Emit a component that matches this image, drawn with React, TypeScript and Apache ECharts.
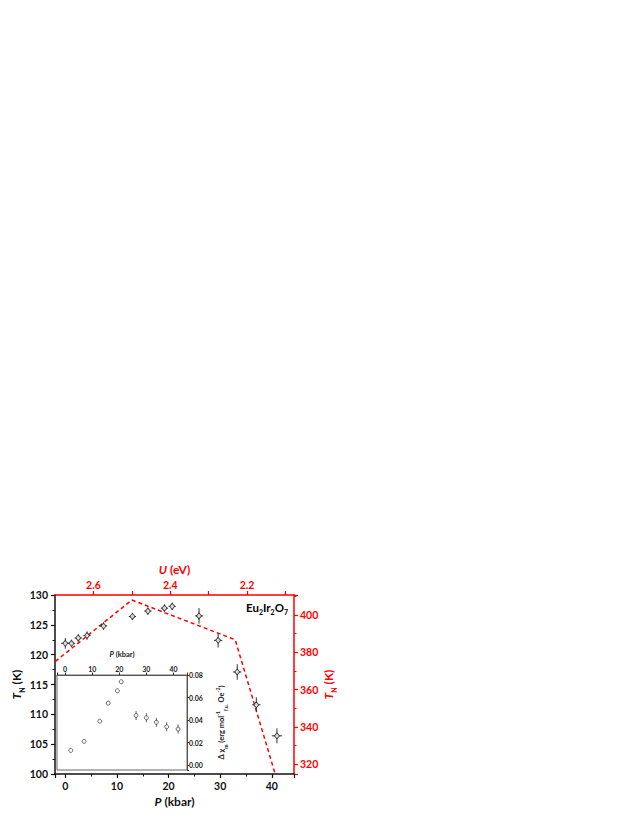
import React, { useEffect, useRef } from "react";
import * as echarts from "echarts";

// Main panel: Eu2Ir2O7 Néel temperature vs pressure
const P_MAIN = [0, 1.2, 2.5, 4.2, 7.4, 13.0, 16.0, 19.2, 20.7, 25.9, 29.6, 33.3, 37.0, 41.0];
const TN_MAIN = [121.9, 121.9, 122.8, 123.2, 124.8, 126.4, 127.3, 127.8, 128.1, 126.5, 122.4, 117.1, 111.6, 106.4];
const P_ERR = [0.8, 0.7, 0.7, 0.7, 0.7, 0.7, 0.7, 0.7, 0.7, 0.8, 0.8, 0.8, 0.8, 1.0];
const TN_ERR = [0.9, 0.6, 0.6, 0.7, 0.6, 0.6, 0.6, 0.6, 0.6, 1.3, 1.2, 1.3, 1.25, 1.25];

// Calculated T_N vs U (dashed red)
const U_CALC = [2.699, 2.5, 2.231, 2.127];
const TN_CALC = [375.1, 408.0, 386.7, 314.7];

// Inset: delta chi vs pressure
const P_INSET = [2.1, 7.0, 12.8, 15.9, 19.3, 20.7, 26.2, 30.0, 33.7, 37.5, 41.7];
const DCHI = [0.013, 0.021, 0.039, 0.055, 0.066, 0.074, 0.044, 0.042, 0.038, 0.034, 0.032];
const DCHI_ERR = [0, 0, 0, 0, 0, 0, 0.004, 0.004, 0.004, 0.004, 0.004];

// Tick labels
const P_LABELS = [0, 10, 20, 30, 40];
const TN_LEFT_LABELS = [100, 105, 110, 115, 120, 125, 130];
const TN_RIGHT_LABELS = [320, 340, 360, 380, 400];
const U_LABELS = [2.2, 2.4, 2.6];
const U_TICKS = [2.1, 2.2, 2.3, 2.4, 2.5, 2.6];
const DCHI_LABELS = [0, 0.02, 0.04, 0.06, 0.08];

const FONT = "Lato";
const RED = "#ff0000";

const onlyIn = (list: number[], digits: number) => (v: number) =>
  list.some((x) => Math.abs(x - v) < 1e-6) ? v.toFixed(digits) : "";

const subRich = (size: number, color: string) => ({
  i: { fontFamily: FONT, fontWeight: "bold", fontStyle: "italic", fontSize: size, color, lineHeight: size + 6, verticalAlign: "middle" },
  n: { fontFamily: FONT, fontWeight: "bold", fontSize: size, color, lineHeight: size + 6, verticalAlign: "middle" },
  s: { fontFamily: FONT, fontWeight: "bold", fontSize: Math.round(size * 0.62), color, lineHeight: Math.round(size * 0.62) + 1, verticalAlign: "bottom" },
  p: { fontFamily: FONT, fontWeight: "bold", fontSize: Math.round(size * 0.62), color, lineHeight: Math.round(size * 0.62) + 1, verticalAlign: "top" },
});

export default function App() {
  const ref = useRef<HTMLDivElement>(null);
  useEffect(() => {
    if (!ref.current) return;
    const chart = echarts.init(ref.current, null, { renderer: "svg" });

    const mainData = P_MAIN.map((p, i) => [p, TN_MAIN[i], P_ERR[i], TN_ERR[i]]);
    const insetData = P_INSET.map((p, i) => [p, DCHI[i], 0, DCHI_ERR[i]]);
    const calcData = U_CALC.map((u, i) => [u, TN_CALC[i]]);

    const errRender = (color: string, w: number) => (params: any, api: any) => {
      const x = api.value(0), y = api.value(1), ex = api.value(2), ey = api.value(3);
      const children: any[] = [];
      if (ex > 0) {
        const l = api.coord([x - ex, y]);
        const r = api.coord([x + ex, y]);
        children.push({ type: "line", shape: { x1: l[0], y1: l[1], x2: r[0], y2: r[1] }, style: { stroke: color, lineWidth: w } });
      }
      if (ey > 0) {
        const t = api.coord([x, y + ey]);
        const b = api.coord([x, y - ey]);
        children.push({ type: "line", shape: { x1: t[0], y1: t[1], x2: b[0], y2: b[1] }, style: { stroke: color, lineWidth: w } });
      }
      return { type: "group", children };
    };

    const labelBlack = { fontFamily: FONT, fontWeight: "bold", fontSize: 10.5, color: "#111" };
    const labelRed = { fontFamily: FONT, fontWeight: "bold", fontSize: 10.5, color: RED };
    const insetLabel = { fontFamily: FONT, fontWeight: "bold", fontSize: 7, color: "#222" };

    chart.setOption({
      animation: false,
      backgroundColor: "#fff",
      grid: [
        { left: 55, top: 595, width: 239, height: 179, show: false },
        { left: 57, top: 675, width: 130, height: 95, show: true, borderColor: "#666", borderWidth: 1, backgroundColor: "#fff", z: 3 },
      ],
      xAxis: [
        {
          gridIndex: 0, type: "value", position: "bottom", min: -2, max: 44.3,
          name: "{i|P}{n| (kbar)}", nameLocation: "middle", nameGap: 18,
          nameTextStyle: { rich: subRich(12, "#111") },
          axisLine: { show: true, onZero: false, lineStyle: { color: "#111", width: 1.5 } },
          axisTick: { show: true, inside: false, length: 4, lineStyle: { color: "#111", width: 1.2 } },
          minorTick: { show: true, splitNumber: 2, length: 2.5, lineStyle: { color: "#111", width: 1 } },
          axisLabel: { ...labelBlack, margin: 6, formatter: onlyIn(P_LABELS, 0) },
          splitLine: { show: false },
        },
        {
          gridIndex: 0, type: "value", position: "top", min: 2.078, max: 2.7, inverse: true,
          name: "{i|U}{n| (eV)}", nameLocation: "middle", nameGap: 17,
          nameTextStyle: { rich: subRich(12, RED) },
          axisLine: { show: true, onZero: false, lineStyle: { color: RED, width: 1.5 } },
          axisTick: { show: true, inside: false, length: 4, customValues: U_TICKS, lineStyle: { color: RED, width: 1.2 } },
          axisLabel: { ...labelRed, margin: 5, customValues: U_LABELS, formatter: (v: number) => v.toFixed(1) },
          splitLine: { show: false },
        },
        {
          gridIndex: 1, type: "value", position: "top", min: -3, max: 45,
          name: "{i|P}{n| (kbar)}", nameLocation: "middle", nameGap: 14,
          nameTextStyle: { rich: subRich(7.5, "#222") },
          axisLine: { show: true, onZero: false, lineStyle: { color: "#555", width: 1 } },
          axisTick: { show: true, inside: false, length: 2.5, lineStyle: { color: "#333", width: 1 } },
          axisLabel: { ...insetLabel, margin: 3, formatter: onlyIn(P_LABELS, 0) },
          splitLine: { show: false },
          z: 4,
        },
      ],
      yAxis: [
        {
          gridIndex: 0, type: "value", position: "left", min: 100, max: 130, interval: 5,
          name: "{i|T}{s|N}{n| (K)}", nameLocation: "middle", nameGap: 26, nameRotate: 90,
          nameTextStyle: { rich: subRich(12, "#111") },
          axisLine: { show: true, onZero: false, lineStyle: { color: "#111", width: 1.5 } },
          axisTick: { show: true, inside: false, length: 4, lineStyle: { color: "#111", width: 1.2 } },
          minorTick: { show: true, splitNumber: 2, length: 2.5, lineStyle: { color: "#111", width: 1 } },
          axisLabel: { ...labelBlack, margin: 7, formatter: onlyIn(TN_LEFT_LABELS, 0) },
          splitLine: { show: false },
        },
        {
          gridIndex: 0, type: "value", position: "right", min: 314.7, max: 410.7,
          name: "{i|T}{s|N}{n| (K)}", nameLocation: "middle", nameGap: 25, nameRotate: 90,
          nameTextStyle: { rich: subRich(12, RED) },
          axisLine: { show: true, onZero: false, lineStyle: { color: RED, width: 1.5 } },
          axisTick: { show: true, inside: false, length: 4, lineStyle: { color: RED, width: 1.2 } },
          minorTick: { show: true, splitNumber: 2, length: 2.5, lineStyle: { color: RED, width: 1 } },
          axisLabel: { ...labelRed, margin: 6, formatter: onlyIn(TN_RIGHT_LABELS, 0) },
          splitLine: { show: false },
        },
        {
          gridIndex: 1, type: "value", position: "right", min: -0.0044, max: 0.08,
          name: "{n|Δ χ}{s|m}{n| (erg mol}{p|-1}{s|f.u.}{n| Oe}{p|-2}{n|)}",
          nameLocation: "middle", nameGap: 28, nameRotate: 90,
          nameTextStyle: { rich: subRich(7.5, "#222") },
          axisLine: { show: true, onZero: false, lineStyle: { color: "#555", width: 1 } },
          axisTick: { show: true, inside: false, length: 2, lineStyle: { color: "#333", width: 1 } },
          axisLabel: { ...insetLabel, margin: 2, formatter: onlyIn(DCHI_LABELS, 2) },
          splitLine: { show: false },
          z: 4,
        },
      ],
      graphic: [
        {
          type: "text", left: 246, top: 601, z: 10,
          style: {
            text: "{n|Eu}{s|2}{n|Ir}{s|2}{n|O}{s|7}",
            rich: subRich(11.5, "#111"),
          },
        },
      ],
      series: [
        {
          type: "line", xAxisIndex: 1, yAxisIndex: 1, data: calcData, symbol: "none", clip: true,
          lineStyle: { color: RED, width: 1.5, type: [4, 3] }, z: 2,
        },
        {
          type: "custom", xAxisIndex: 0, yAxisIndex: 0, data: mainData,
          renderItem: errRender("#333", 1), z: 5,
        },
        {
          type: "scatter", xAxisIndex: 0, yAxisIndex: 0, data: mainData.map((d) => [d[0], d[1]]),
          symbol: "diamond", symbolSize: [5, 6],
          itemStyle: { color: "#fff", borderColor: "#222", borderWidth: 1 }, z: 6,
        },
        {
          type: "custom", xAxisIndex: 2, yAxisIndex: 2, data: insetData,
          renderItem: errRender("#666", 1), z: 5,
        },
        {
          type: "scatter", xAxisIndex: 2, yAxisIndex: 2, data: insetData.map((d) => [d[0], d[1]]),
          symbol: "circle", symbolSize: 4,
          itemStyle: { color: "#fff", borderColor: "#333", borderWidth: 0.9 }, z: 6,
        },
      ],
    });
    return () => chart.dispose();
  }, []);
  return <div ref={ref} style={{ position: "absolute", left: 0, top: 0, width: 630, height: 825 }} />;
}
